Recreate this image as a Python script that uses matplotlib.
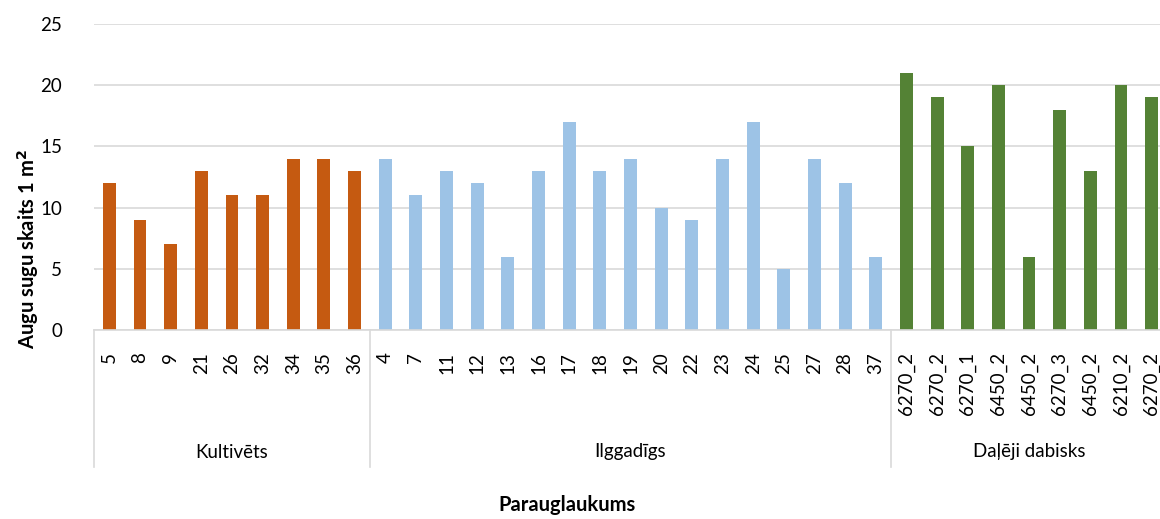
import numpy as np
import matplotlib.pyplot as plt
from matplotlib.transforms import blended_transform_factory

plt.rcParams['font.family'] = ['Lato', 'DejaVu Sans']

group_names = ["Kultivēts", "Ilggadīgs", "Daļēji dabisks"]
kult_labels = ["5", "8", "9", "21", "26", "32", "34", "35", "36"]
kult_values = [12, 9, 7, 13, 11, 11, 14, 14, 13]
ilg_labels = ["4", "7", "11", "12", "13", "16", "17", "18", "19", "20",
              "22", "23", "24", "25", "27", "28", "37"]
ilg_values = [14, 11, 13, 12, 6, 13, 17, 13, 14, 10, 9, 14, 17, 5, 14, 12, 6]
dab_labels = ["6270_2", "6270_2", "6270_1", "6450_2", "6450_2", "6270_3",
              "6450_2", "6210_2", "6270_2"]
dab_values = [21, 19, 15, 20, 6, 18, 13, 20, 19]
colors = ["#C55A11", "#9DC3E6", "#548235"]

groups = [(kult_labels, kult_values), (ilg_labels, ilg_values), (dab_labels, dab_values)]

W, H = 1160, 519
fig = plt.figure(figsize=(W / 100, H / 100), dpi=100)
# axes spans index -0.5 .. 34.5, right edge slightly beyond the figure
left_px, right_px, top_px, bottom_px = 94, 1167, 24, 330
ax = fig.add_axes([left_px / W, 1 - bottom_px / H,
                   (right_px - left_px) / W, (bottom_px - top_px) / H])

all_labels = []
start = 0
bounds = [-0.5]
for (labels, values), c in zip(groups, colors):
    x = np.arange(start, start + len(values))
    ax.bar(x, values, width=0.42, color=c, zorder=2)
    all_labels += labels
    start += len(values)
    bounds.append(start - 0.5)

ax.set_xlim(-0.5, len(all_labels) - 0.5)
ax.set_ylim(0, 25)
ax.set_yticks(range(0, 26, 5))
ax.yaxis.grid(True, color="#D9D9D9", linewidth=1.2, zorder=0)
ax.set_xticks(range(len(all_labels)))
ax.set_xticklabels(all_labels, rotation=90, fontsize=13.5, va="top")
ax.tick_params(axis="x", length=0, pad=16)
ax.tick_params(axis="y", length=0, pad=23, labelsize=13.5)
for s in ["top", "right", "left"]:
    ax.spines[s].set_visible(False)
ax.spines["bottom"].set_color("#D9D9D9")
ax.spines["bottom"].set_linewidth(1.2)

trans = blended_transform_factory(ax.transData, ax.transAxes)
axh = bottom_px - top_px
for b in bounds:
    ax.plot([b, b], [0, -137 / axh], transform=trans, color="#D9D9D9",
            linewidth=1.2, clip_on=False)
for i, name in enumerate(group_names):
    cx = (bounds[i] + bounds[i + 1]) / 2
    ax.text(cx, -122 / axh, name, transform=trans, ha="center", va="center",
            fontsize=13.5)

fig.text(28 / W, 1 - 249 / H, "Augu sugu skaits 1 m$^\\mathbf{2}$", rotation=90,
         ha="center", va="center", fontsize=14.5, fontweight="bold")
fig.text(567 / W, 1 - 505 / H, "Parauglaukums", ha="center", va="center",
         fontsize=14.5, fontweight="bold")

fig.savefig("out.png", dpi=100)
